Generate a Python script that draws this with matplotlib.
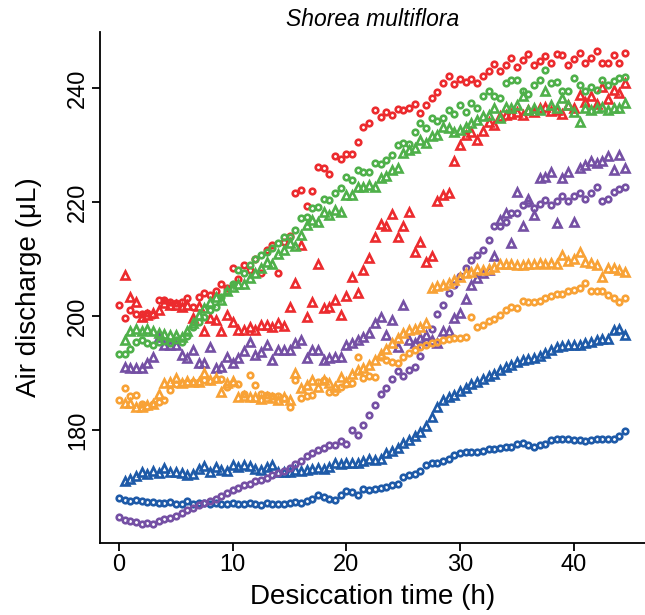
import numpy as np
import matplotlib
matplotlib.use('Agg')
import matplotlib.pyplot as plt

plt.rcParams['font.family'] = ['Liberation Sans', 'DejaVu Sans']

# sampling times (h): circles start at 0, triangles at 0.5, both every 0.5 h
t_circ = np.arange(0, 45, 0.5)
t_tri = np.arange(0.5, 45, 0.5)

blue_circ = [168.1, 167.7, 167.5, 167.8, 167.5, 167.4, 167.4, 167.3, 167.2, 167.4,
             167.1, 167.1, 167.5, 167.1, 167.3, 167.2, 167.1, 167.2, 167.1, 167.0,
             167.3, 167.1, 167.1, 167.2, 167.1, 166.9, 167.2, 167.1, 167.1, 167.0,
             167.3, 167.4, 167.2, 167.5, 167.9, 168.7, 168.2, 167.9, 167.7, 168.6,
             169.4, 169.1, 168.6, 169.6, 169.5, 169.7, 169.9, 170.1, 170.3, 170.6,
             171.7, 172.2, 172.3, 172.9, 173.8, 174.2, 174.3, 174.6, 174.9, 175.6,
             176.0, 176.1, 176.2, 176.1, 176.4, 176.7, 176.6, 176.9, 177.1, 177.1,
             177.6, 177.8, 177.3, 177.0, 177.4, 177.5, 178.3, 178.5, 178.4, 178.5,
             178.3, 178.3, 178.0, 178.3, 178.4, 178.4, 178.5, 178.5, 179.0, 179.8]
blue_tri = [171.0, 171.5, 171.9, 172.6, 172.3, 172.8, 172.5, 173.3, 172.6, 172.6,
            172.4, 172.1, 172.3, 173.2, 173.7, 172.7, 173.5, 173.0, 172.8, 173.8,
            173.6, 173.8, 173.7, 173.1, 173.0, 173.6, 173.9, 172.6, 172.7, 172.6,
            173.0, 172.8, 173.0, 173.1, 173.3, 173.2, 173.6, 174.2, 174.1, 174.2,
            174.3, 174.3, 174.5, 174.9, 174.8, 175.0, 175.9, 176.4, 176.8, 177.7,
            178.2, 179.0, 179.7, 180.8, 182.3, 184.1, 185.3, 185.8, 186.1, 186.8,
            187.3, 188.0, 188.5, 188.9, 189.4, 189.9, 190.5, 191.0, 191.4, 192.0,
            192.3, 192.4, 192.6, 193.0, 193.5, 194.0, 194.6, 194.8, 194.9, 194.9,
            195.0, 195.2, 195.4, 195.8, 195.9, 196.0, 197.5, 197.8, 196.7]
purple_circ = [164.8, 164.2, 164.0, 163.8, 163.6, 163.7, 163.6, 164.0, 164.4, 164.6,
               165.0, 165.4, 165.9, 166.4, 166.8, 167.2, 167.6, 168.0, 168.4, 169.0,
               169.5, 169.9, 170.3, 170.6, 171.0, 171.3, 171.6, 172.1, 172.4, 172.9,
               173.3, 174.0, 174.5, 175.4, 176.0, 176.5, 176.8, 177.3, 177.4, 178.0,
               177.5, 180.0, 179.1, 180.9, 182.6, 184.4, 186.4, 187.3, 188.9, 190.4,
               189.5, 190.5, 191.1, 193.0, 195.5, 197.7, 200.3, 202.0, 204.0, 205.5,
               207.0, 208.5, 209.8, 210.7, 211.6, 213.4, 215.7, 215.7, 216.4, 218.0,
               218.0, 219.5, 219.8, 218.9, 219.6, 220.4, 219.4, 220.1, 221.1, 220.1,
               221.1, 221.5, 220.6, 221.5, 222.7, 220.1, 220.5, 221.8, 222.2, 222.7]
purple_tri = [191.1, 190.9, 190.8, 190.8, 191.7, 192.9, 196.3, 194.9, 194.9, 194.9,
              193.2, 192.6, 194.0, 191.7, 191.7, 194.5, 190.8, 191.0, 192.9, 191.7,
              192.6, 193.9, 195.5, 193.2, 193.7, 194.9, 192.3, 194.0, 194.1, 194.0,
              195.2, 195.8, 192.6, 194.0, 194.0, 192.3, 192.6, 192.9, 192.9, 194.9,
              195.2, 195.8, 196.4, 197.0, 198.7, 199.9, 196.7, 199.3, 194.6, 201.9,
              195.8, 195.2, 196.1, 196.7, 195.8, 195.2, 197.3, 197.3, 199.6, 200.5,
              203.0, 205.4, 206.6, 207.5, 208.1, 210.5, 216.8, 218.0, 212.8, 221.8,
              215.7, 220.6, 217.7, 224.2, 224.4, 225.3, 216.3, 224.2, 225.3, 216.5,
              225.9, 226.5, 227.1, 226.8, 227.1, 228.0, 225.6, 228.2, 225.9]
orange_circ = [185.3, 187.3, 186.0, 186.1, 184.6, 184.1, 184.5, 184.9, 185.3, 187.0,
               188.0, 188.2, 188.3, 188.5, 188.4, 188.7, 188.6, 188.9, 189.0, 187.6,
               188.2, 188.0, 186.4, 189.6, 187.9, 186.4, 186.2, 185.9, 186.0, 185.6,
               184.1, 188.8, 185.6, 185.9, 186.1, 188.5, 188.8, 186.7, 186.7, 187.5,
               188.0, 188.2, 192.9, 189.1, 189.4, 189.3, 192.9, 192.3, 192.0, 191.8,
               192.9, 193.5, 194.0, 194.6, 195.0, 195.3, 195.5, 195.8, 196.0, 196.1,
               196.2, 196.4, 199.8, 198.0, 198.4, 199.2, 199.4, 200.2, 201.1, 201.6,
               201.4, 202.7, 202.5, 202.5, 202.7, 203.1, 203.5, 203.9, 203.9, 204.3,
               204.6, 204.9, 205.8, 204.3, 204.4, 204.4, 203.7, 203.1, 202.5, 203.1]
orange_tri = [184.7, 184.7, 184.0, 184.0, 184.4, 184.6, 186.4, 188.2, 188.5, 189.1,
              188.2, 188.6, 188.5, 188.4, 190.0, 188.8, 189.1, 186.7, 188.2, 188.6,
              185.8, 186.0, 185.8, 185.8, 185.5, 185.8, 185.6, 185.3, 185.8, 185.2,
              190.0, 187.3, 187.9, 188.8, 187.6, 188.8, 188.2, 187.6, 189.3, 188.4,
              189.8, 190.5, 190.8, 191.4, 192.3, 193.3, 194.2, 195.2, 196.1, 197.0,
              197.5, 197.8, 198.1, 198.7, 204.9, 205.2, 205.5, 205.8, 206.3, 206.8,
              207.5, 207.8, 208.3, 208.0, 208.3, 208.6, 209.2, 209.2, 209.2, 208.9,
              209.0, 209.1, 209.2, 209.3, 209.2, 209.3, 209.2, 210.7, 209.6, 210.0,
              211.3, 209.5, 209.3, 208.9, 206.9, 208.4, 208.4, 208.1, 207.8]
red_circ = [201.9, 199.6, 201.1, 200.4, 200.3, 200.6, 200.2, 202.8, 202.8, 202.5,
            202.3, 202.5, 203.1, 201.6, 203.4, 204.0, 203.6, 204.3, 205.7, 205.0,
            208.4, 206.5, 209.0, 208.0, 210.0, 207.5, 211.5, 212.5, 207.6, 213.0,
            214.0, 221.6, 222.1, 219.3, 222.0, 226.2, 225.9, 224.9, 228.1, 227.5,
            228.4, 228.4, 230.6, 233.2, 233.8, 236.1, 234.9, 235.8, 235.3, 236.3,
            236.1, 236.4, 237.2, 235.6, 237.0, 238.2, 239.2, 240.8, 242.1, 240.7,
            241.6, 241.0, 241.5, 240.8, 242.0, 242.9, 244.2, 243.0, 244.0, 245.2,
            243.7, 244.9, 245.9, 244.0, 244.8, 245.6, 244.4, 245.9, 245.7, 244.0,
            245.0, 246.1, 244.3, 245.2, 246.5, 244.4, 244.4, 245.8, 244.3, 246.2]
red_tri = [207.2, 203.3, 202.5, 199.9, 200.2, 200.5, 201.0, 202.3, 201.9, 202.0,
           201.6, 202.0, 199.6, 201.8, 197.3, 199.6, 199.3, 197.3, 200.2, 199.0,
           197.5, 197.5, 198.1, 197.6, 198.4, 198.4, 198.0, 198.7, 198.2, 201.6,
           205.8, 212.5, 199.9, 202.5, 209.2, 201.4, 201.6, 202.8, 200.2, 203.5,
           206.9, 204.0, 208.1, 210.1, 213.9, 216.1, 215.7, 217.9, 213.9, 215.8,
           218.3, 211.3, 213.0, 209.5, 210.5, 220.2, 221.2, 221.5, 227.1, 230.0,
           231.8, 232.3, 230.9, 232.5, 234.1, 233.5, 235.0, 235.3, 235.5, 235.8,
           235.2, 236.1, 235.8, 236.4, 236.7, 236.0, 236.1, 235.5, 237.0, 236.5,
           238.8, 237.5, 238.5, 237.2, 240.2, 238.0, 239.6, 239.1, 240.8]
green_circ = [193.3, 193.3, 194.3, 195.5, 195.8, 195.3, 194.9, 195.5, 195.6, 195.2,
              195.8, 195.5, 196.5, 198.1, 199.0, 199.9, 201.0, 201.6, 203.4, 204.3,
              205.7, 208.1, 207.5, 209.0, 210.0, 210.7, 211.2, 212.0, 212.8, 213.8,
              213.9, 215.1, 217.1, 217.4, 218.9, 219.2, 220.6, 220.3, 221.5, 222.4,
              224.4, 223.9, 225.6, 225.3, 225.3, 226.9, 226.7, 227.4, 228.2, 230.0,
              230.4, 230.2, 232.3, 233.8, 233.0, 234.7, 234.2, 234.7, 236.1, 235.5,
              237.0, 235.8, 237.3, 236.5, 238.5, 239.4, 238.5, 238.2, 240.8, 241.4,
              241.4, 239.4, 238.9, 240.5, 241.4, 243.2, 240.9, 241.0, 239.4, 239.4,
              241.7, 240.5, 239.4, 240.2, 239.6, 241.4, 240.5, 241.2, 241.7, 241.9]
green_tri = [195.8, 197.3, 197.8, 197.3, 197.7, 197.3, 197.0, 196.8, 196.7, 196.7,
             196.4, 197.3, 198.7, 200.2, 201.4, 202.5, 203.4, 202.8, 204.3, 205.1,
             205.7, 205.7, 206.6, 207.6, 208.5, 209.5, 209.2, 210.8, 211.5, 212.8,
             212.2, 214.2, 216.0, 216.8, 216.5, 218.3, 217.7, 218.6, 218.3, 221.2,
             221.2, 222.7, 222.7, 223.0, 222.7, 224.2, 224.5, 225.6, 225.9, 228.5,
             229.1, 229.4, 230.9, 230.3, 231.5, 231.8, 233.2, 232.9, 232.3, 232.6,
             233.2, 233.8, 234.4, 235.1, 235.3, 236.4, 234.7, 236.7, 236.4, 237.0,
             238.5, 236.1, 236.4, 236.1, 239.4, 237.0, 236.4, 238.2, 237.0, 235.8,
             234.1, 236.4, 236.1, 236.5, 236.7, 236.1, 236.4, 236.4, 237.3]

# colour, circle series, triangle series
series = [
    ('#1e5aa8', blue_circ, blue_tri),
    ('#7550a4', purple_circ, purple_tri),
    ('#f8a236', orange_circ, orange_tri),
    ('#ec2b2e', red_circ, red_tri),
    ('#4fb04a', green_circ, green_tri),
]

fig = plt.figure(figsize=(6.45, 6.15), dpi=100)
ax = fig.add_axes([100 / 645, 1 - 543 / 615, 545 / 645, 511 / 615])

for color, circ, tri in series:
    ax.plot(t_circ, circ, linestyle='none', marker='o', markersize=4.0,
            markerfacecolor='none', markeredgecolor=color, markeredgewidth=1.9)
    ax.plot(t_tri, tri, linestyle='none', marker='^', markersize=6.3,
            markerfacecolor='none', markeredgecolor=color, markeredgewidth=1.9)

ax.set_xlim(-1.67, 46.26)
ax.set_ylim(160.2, 249.8)
ax.set_xticks([0, 10, 20, 30, 40])
ax.set_yticks([180, 200, 220, 240])

for side in ['top', 'right']:
    ax.spines[side].set_visible(False)
for side in ['left', 'bottom']:
    ax.spines[side].set_linewidth(1.3)

ax.tick_params(direction='out', length=5.5, width=1.3, labelsize=17, pad=2.5)
for lab in ax.get_yticklabels():
    lab.set_rotation(90)
    lab.set_va('center')

ax.set_xlabel('Desiccation time (h)', fontsize=20, labelpad=6)
ax.set_ylabel('Air discharge (\u03bcL)', fontsize=20, labelpad=18)
ax.set_title('Shorea multiflora', fontsize=16.5, style='italic', pad=4)

fig.savefig('out.png', dpi=100)
